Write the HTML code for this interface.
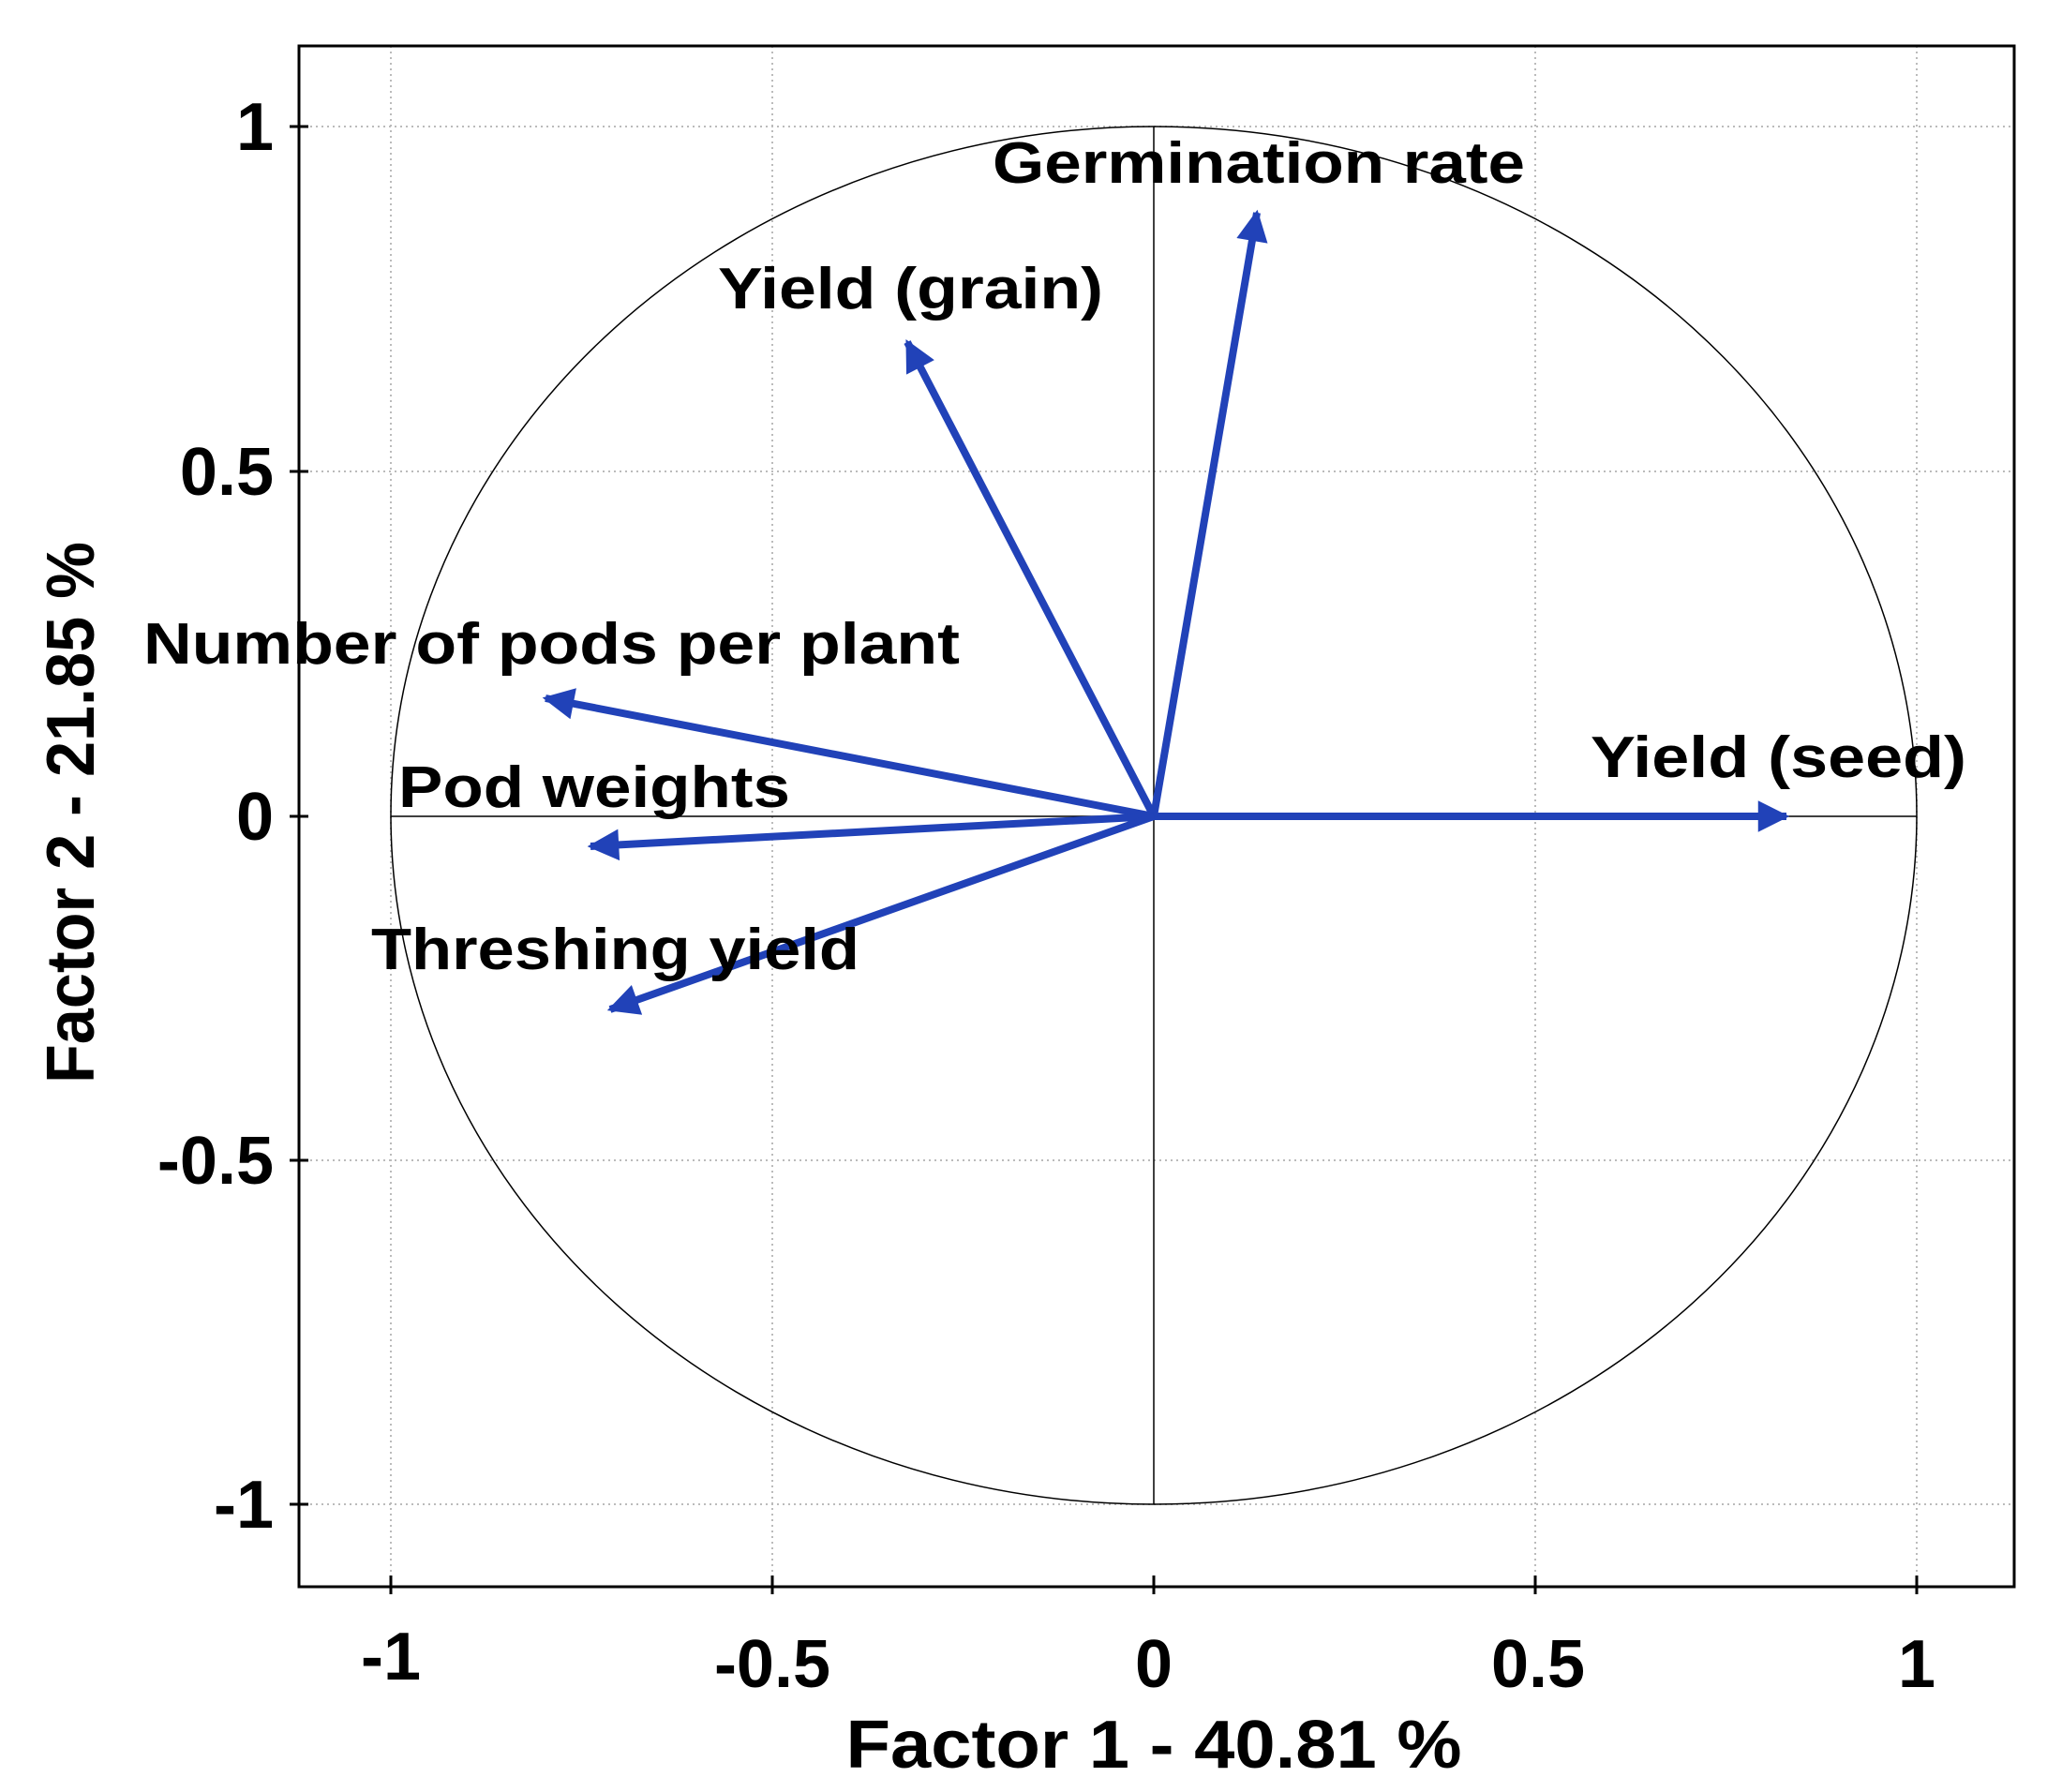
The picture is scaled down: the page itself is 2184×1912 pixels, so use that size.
<!DOCTYPE html>
<html><head><style>body{margin:0;background:#fff}svg{display:block}</style></head><body>
<svg width="2184" height="1912" viewBox="0 0 2184 1912" xmlns="http://www.w3.org/2000/svg" font-family="Liberation Sans, Arial, sans-serif" font-weight="bold">
<defs><marker id="a" viewBox="0 0 10 10" refX="9" refY="5" markerWidth="5.5" markerHeight="4.2" orient="auto" markerUnits="strokeWidth"><path d="M0,0L10,5L0,10z" fill="#2142b8"/></marker></defs>
<g stroke="#bbb" stroke-width="2" stroke-dasharray="2,4">
<line x1="417" y1="49" x2="417" y2="1693"/><line x1="824" y1="49" x2="824" y2="1693"/><line x1="1638" y1="49" x2="1638" y2="1693"/><line x1="2045" y1="49" x2="2045" y2="1693"/>
<line x1="319" y1="135" x2="2149" y2="135"/><line x1="319" y1="503" x2="2149" y2="503"/><line x1="319" y1="1238" x2="2149" y2="1238"/><line x1="319" y1="1605" x2="2149" y2="1605"/>
</g>
<g stroke="#000" stroke-width="1.5" fill="none">
<line x1="1231" y1="135" x2="1231" y2="1605"/><line x1="417" y1="871" x2="2045" y2="871"/>
<ellipse cx="1231" cy="870" rx="814" ry="735"/>
</g>
<g stroke="#000" stroke-width="3" fill="none">
<path d="M319,49V1693H2149V49Z"/>
<path d="M417,1681V1701M824,1681V1701M1231,1681V1701M1638,1681V1701M2045,1681V1701M309,135H329M309,503H329M309,871H329M309,1238H329M309,1605H329"/>
</g>
<g stroke="#2142b8" stroke-width="8" marker-end="url(#a)" fill="none">
<line x1="1231" y1="871" x2="1906" y2="871"/>
<line x1="1231" y1="871" x2="1341" y2="227"/>
<line x1="1231" y1="871" x2="968" y2="365"/>
<line x1="1231" y1="871" x2="582" y2="745"/>
<line x1="1231" y1="871" x2="630" y2="903"/>
<line x1="1231" y1="871" x2="651" y2="1077"/>
</g>
<g font-size="62" fill="#000">
<text x="1697" y="829" textLength="401" lengthAdjust="spacingAndGlyphs">Yield (seed)</text>
<text x="1059" y="195" textLength="568" lengthAdjust="spacingAndGlyphs">Germination rate</text>
<text x="766" y="329" textLength="411" lengthAdjust="spacingAndGlyphs">Yield (grain)</text>
<text x="153" y="708" textLength="871" lengthAdjust="spacingAndGlyphs">Number of pods per plant</text>
<text x="425" y="861" textLength="418" lengthAdjust="spacingAndGlyphs">Pod weights</text>
<text x="396" y="1034" textLength="521" lengthAdjust="spacingAndGlyphs">Threshing yield</text>
</g>
<g font-size="72" fill="#000" text-anchor="end">
<text x="292" y="160">1</text><text x="292" y="528">0.5</text><text x="292" y="896">0</text><text x="292" y="1263">-0.5</text><text x="292" y="1630">-1</text>
</g>
<g font-size="72" fill="#000" text-anchor="middle">
<text x="417" y="1792">-1</text><text x="824" y="1800">-0.5</text><text x="1231" y="1800">0</text><text x="1641" y="1800">0.5</text><text x="2045" y="1800">1</text>
<text x="1231" y="1886" textLength="657" lengthAdjust="spacingAndGlyphs">Factor 1 - 40.81 %</text>
<text transform="translate(100,867) rotate(-90)" textLength="578" lengthAdjust="spacingAndGlyphs">Factor 2 - 21.85 %</text>
</g>
</svg>
</body></html>
